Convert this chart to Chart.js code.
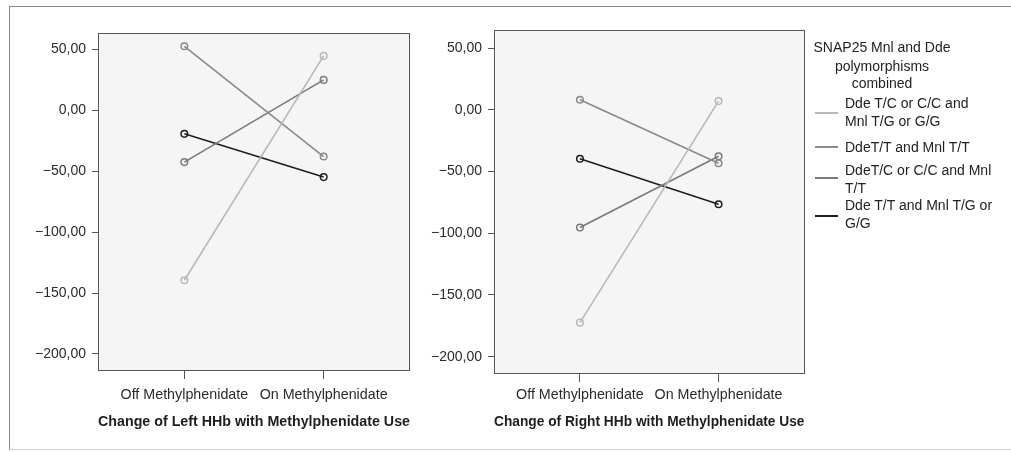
<!DOCTYPE html>
<html><head><meta charset="utf-8">
<script src="https://cdn.jsdelivr.net/npm/chart.js@4"></script>
<style>
html,body{margin:0;padding:0;background:#fff;}
body{width:1011px;height:452px;overflow:hidden;position:relative;font-family:"Liberation Sans",Arial,Helvetica,sans-serif;}
#frame{position:absolute;left:9px;top:6px;width:1010px;height:444px;border-left:1px solid #8a8a8a;border-top:1px solid #8a8a8a;border-bottom:1px solid #d0d0d0;box-sizing:border-box;}
#w1{position:absolute;left:0;top:0;width:420px;height:452px;}
#w2{position:absolute;left:420px;top:0;width:390px;height:452px;}
.lg{position:absolute;font-size:14px;line-height:18px;color:#222;white-space:nowrap;}
.sw{position:absolute;height:0;}
</style></head>
<body>
<div id="frame"></div>
<div id="w1"><canvas id="c1"></canvas></div>
<div id="w2"><canvas id="c2"></canvas></div>
<div id="legend"></div>
<script>
// ---- data ----
const categories = ['Off Methylphenidate', 'On Methylphenidate'];
const yTickValues = [-200, -150, -100, -50, 0, 50];
const seriesNames = [
  'Dde T/C or C/C and Mnl T/G or G/G',
  'DdeT/T and Mnl T/T',
  'DdeT/C or C/C and Mnl T/T',
  'Dde T/T and Mnl T/G or G/G'
];
const leftTitle = 'Change of Left HHb with Methylphenidate Use';
const rightTitle = 'Change of Right HHb with Methylphenidate Use';
// Left HHb
const leftSeries1 = [-139.5, 44.7];
const leftSeries2 = [52.6, -37.9];
const leftSeries3 = [-42.5, 25.0];
const leftSeries4 = [-19.3, -54.8];
// Right HHb
const rightSeries1 = [-172.4, 7.0];
const rightSeries2 = [8.1, -43.3];
const rightSeries3 = [-95.4, -37.6];
const rightSeries4 = [-39.7, -76.5];
// legend text (wrapped as in the original)
const legendTitleLines = ['SNAP25 Mnl and Dde', 'polymorphisms', 'combined'];
const legendLabelLines = [
  ['Dde T/C or C/C and', 'Mnl T/G or G/G'],
  ['DdeT/T and Mnl T/T'],
  ['DdeT/C or C/C and Mnl', 'T/T'],
  ['Dde T/T and Mnl T/G or', 'G/G']
];

// ---- styles ----
const seriesColors = ['#b8b8b8', '#8a8a8a', '#7a7a7a', '#1e1e1e'];
const FONT = '"Liberation Sans", Arial, Helvetica, sans-serif';

function fmt(v){
  const s = Math.abs(v).toFixed(2).replace('.', ',');
  return (v < 0 ? '\u2212' : '') + s;
}

const frameBox = {
  id: 'frameBox',
  beforeDraw(chart){
    const a = chart.chartArea, ctx = chart.ctx;
    ctx.save();
    ctx.fillStyle = '#f5f5f5';
    ctx.fillRect(a.left, a.top, a.right - a.left, a.bottom - a.top);
    ctx.restore();
  },
  afterDraw(chart){
    const a = chart.chartArea, ctx = chart.ctx;
    ctx.save();
    ctx.strokeStyle = '#555';
    ctx.lineWidth = 1;
    ctx.strokeRect(Math.round(a.left) + 0.5, Math.round(a.top) + 0.5, Math.round(a.right - a.left) - 1, Math.round(a.bottom - a.top) - 1);
    ctx.restore();
  }
};

function makeChart(id, seriesList, title, opts){
  const datasets = seriesList.map((vals, i) => ({
    label: seriesNames[i],
    data: vals.map((v, j) => ({x: j, y: v})),
    borderColor: seriesColors[i],
    pointBorderColor: seriesColors[i],
    pointBackgroundColor: 'rgba(0,0,0,0)',
    borderWidth: 1.6,
    pointRadius: 3.3,
    pointBorderWidth: 1.5,
    tension: 0
  }));
  return new Chart(document.getElementById(id), {
    type: 'line',
    data: {datasets},
    plugins: [frameBox],
    options: {
      responsive: true,
      maintainAspectRatio: false,
      animation: false,
      events: [],
      layout: {padding: opts.padding},
      plugins: {legend: {display: false}, tooltip: {enabled: false}},
      scales: {
        x: {
          type: 'linear',
          min: -0.62, max: 1.62,
          afterBuildTicks: s => { s.ticks = categories.map((c, i) => ({value: i})); },
          afterFit: s => { s.height = opts.xHeight; },
          grid: {drawOnChartArea: false, drawTicks: true, tickLength: 8, color: '#555', lineWidth: 1},
          border: {display: false},
          ticks: {
            callback: v => categories[v],
            font: {family: FONT, size: 14.3},
            color: '#2a2a2a',
            padding: opts.xPad,
            maxRotation: 0, autoSkip: false
          },
          title: {
            display: true, text: title,
            font: {family: FONT, size: 14.5, weight: 'bold'},
            color: '#1e1e1e',
            padding: {top: 0, bottom: 0}
          }
        },
        y: {
          type: 'linear',
          min: -214, max: opts.yMax,
          afterBuildTicks: s => { s.ticks = yTickValues.map(v => ({value: v})); },
          afterFit: s => { s.width = 66; },
          grid: {drawOnChartArea: false, drawTicks: true, tickLength: 6, color: '#555', lineWidth: 1},
          border: {display: false},
          ticks: {
            callback: v => fmt(v),
            font: {family: FONT, size: 14},
            color: '#2a2a2a',
            padding: 6
          }
        }
      }
    }
  });
}

makeChart('c1', [leftSeries1, leftSeries2, leftSeries3, leftSeries4], leftTitle,
  {padding: {left: 32, right: 10, top: 33, bottom: 21}, xHeight: 60, xPad: 7, yMax: 63.5});
makeChart('c2', [rightSeries1, rightSeries2, rightSeries3, rightSeries4], rightTitle,
  {padding: {left: 8, right: 4, top: 30, bottom: 21}, xHeight: 57, xPad: 4, yMax: 64.6});

// ---- legend (HTML) ----
const lg = document.getElementById('legend');
const titleCenters = [47.3, 66, 83.3];
legendTitleLines.forEach((t, i) => {
  const d = document.createElement('div');
  d.className = 'lg';
  d.style.left = '782px'; d.style.width = '200px'; d.style.textAlign = 'center';
  d.style.top = (titleCenters[i] - 9) + 'px';
  d.textContent = t;
  lg.appendChild(d);
});
const itemTops = [103.3, 146.7, 170, 205];
const itemGaps = [17.4, 0, 18.3, 18.3];
const swatchY = [113.3, 146.7, 178.3, 215.7];
legendLabelLines.forEach((lines, i) => {
  lines.forEach((t, k) => {
    const d = document.createElement('div');
    d.className = 'lg';
    d.style.left = '845px';
    d.style.top = (itemTops[i] + k * itemGaps[i] - 9) + 'px';
    d.textContent = t;
    lg.appendChild(d);
  });
  const s = document.createElement('div');
  s.className = 'sw';
  s.style.left = '815px'; s.style.width = '23px';
  s.style.top = (swatchY[i] - 1) + 'px';
  s.style.borderTop = '2px solid ' + seriesColors[i];
  lg.appendChild(s);
});
</script>
</body></html>
